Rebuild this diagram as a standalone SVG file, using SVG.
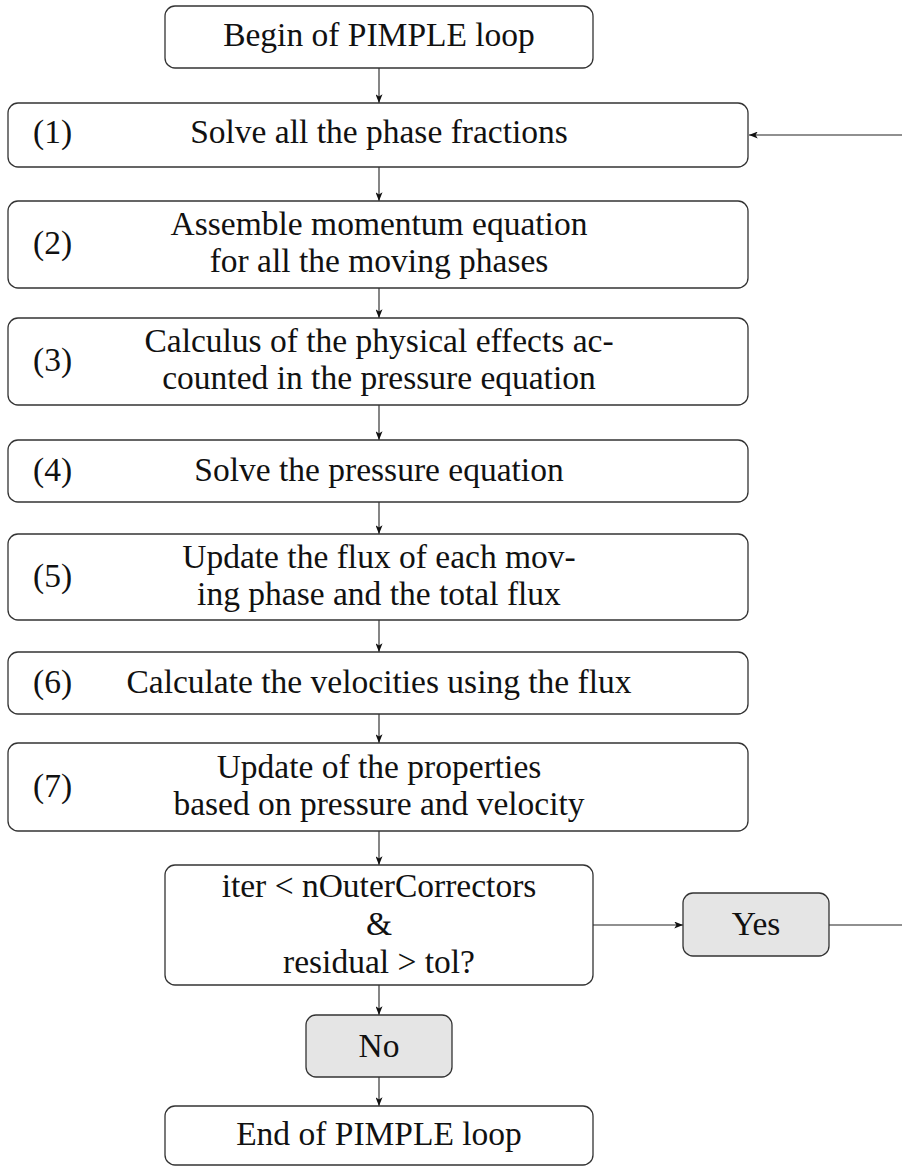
<svg xmlns="http://www.w3.org/2000/svg" width="902" height="1167" viewBox="0 0 902 1167">
<style>
.box{fill:#fff;stroke:#333;stroke-width:1.3}
.grey{fill:#e5e5e5;stroke:#333;stroke-width:1.3}
.c{text-anchor:middle}
.conn{fill:none;stroke:#222;stroke-width:1.1}
</style>
<defs>
<marker id="arr" viewBox="0 0 10 8" refX="10" refY="4" markerUnits="userSpaceOnUse" markerWidth="9" markerHeight="7" orient="auto">
<path d="M0,0 L10,4 L0,8 L2.5,4 Z" fill="#111"/>
</marker>
</defs>
<rect width="902" height="1167" fill="#fff"/>

<g id="connectors">
<line class="conn" x1="379" y1="68" x2="379" y2="103" marker-end="url(#arr)"/>
<line class="conn" x1="379" y1="167" x2="379" y2="201" marker-end="url(#arr)"/>
<line class="conn" x1="379" y1="288" x2="379" y2="318" marker-end="url(#arr)"/>
<line class="conn" x1="379" y1="405" x2="379" y2="440" marker-end="url(#arr)"/>
<line class="conn" x1="379" y1="502" x2="379" y2="534" marker-end="url(#arr)"/>
<line class="conn" x1="379" y1="620" x2="379" y2="652" marker-end="url(#arr)"/>
<line class="conn" x1="379" y1="714" x2="379" y2="743" marker-end="url(#arr)"/>
<line class="conn" x1="379" y1="831" x2="379" y2="865" marker-end="url(#arr)"/>
<line class="conn" x1="593" y1="925" x2="683" y2="925" marker-end="url(#arr)"/>
<path class="conn" d="M829,925 H904 V135 H749" marker-end="url(#arr)"/>
<line class="conn" x1="379" y1="985" x2="379" y2="1015" marker-end="url(#arr)"/>
<line class="conn" x1="379" y1="1077" x2="379" y2="1106" marker-end="url(#arr)"/>
</g>

<g font-family="Liberation Serif, Tinos, Times New Roman, DejaVu Serif, Noto Serif, serif" font-size="33.5" fill="#111">
<g id="begin">
<rect class="box" x="165" y="6" width="428" height="62" rx="10"/>
<text class="c" x="379" y="46">Begin of PIMPLE loop</text>
</g>

<g id="step1">
<rect class="box" x="8" y="103" width="740" height="64" rx="10"/>
<text x="33" y="143">(1)</text>
<text class="c" x="379" y="143">Solve all the phase fractions</text>
</g>

<g id="step2">
<rect class="box" x="8" y="201" width="740" height="87" rx="10"/>
<text x="33" y="254">(2)</text>
<text class="c" x="379" y="235">Assemble momentum equation</text>
<text class="c" x="379" y="272">for all the moving phases</text>
</g>

<g id="step3">
<rect class="box" x="8" y="318" width="740" height="87" rx="10"/>
<text x="33" y="371">(3)</text>
<text class="c" x="379" y="352">Calculus of the physical effects ac-</text>
<text class="c" x="379" y="389">counted in the pressure equation</text>
</g>

<g id="step4">
<rect class="box" x="8" y="440" width="740" height="62" rx="10"/>
<text x="33" y="481">(4)</text>
<text class="c" x="379" y="481">Solve the pressure equation</text>
</g>

<g id="step5">
<rect class="box" x="8" y="534" width="740" height="86" rx="10"/>
<text x="33" y="587">(5)</text>
<text class="c" x="379" y="568">Update the flux of each mov-</text>
<text class="c" x="379" y="605">ing phase and the total flux</text>
</g>

<g id="step6">
<rect class="box" x="8" y="652" width="740" height="62" rx="10"/>
<text x="33" y="693">(6)</text>
<text class="c" x="379" y="693">Calculate the velocities using the flux</text>
</g>

<g id="step7">
<rect class="box" x="8" y="743" width="740" height="88" rx="10"/>
<text x="33" y="797">(7)</text>
<text class="c" x="379" y="778">Update of the properties</text>
<text class="c" x="379" y="815">based on pressure and velocity</text>
</g>

<g id="decision">
<rect class="box" x="165" y="865" width="428" height="120" rx="10"/>
<text class="c" x="379" y="897">iter &lt; nOuterCorrectors</text>
<text class="c" x="379" y="935">&amp;</text>
<text class="c" x="379" y="973">residual &gt; tol?</text>
</g>

<g id="yes">
<rect class="grey" x="683" y="893" width="146" height="63" rx="10"/>
<text class="c" x="756" y="935">Yes</text>
</g>

<g id="no">
<rect class="grey" x="306" y="1015" width="146" height="62" rx="10"/>
<text class="c" x="379" y="1057">No</text>
</g>

<g id="end">
<rect class="box" x="165" y="1106" width="428" height="59" rx="10"/>
<text class="c" x="379" y="1145">End of PIMPLE loop</text>
</g>
</g>
</svg>
